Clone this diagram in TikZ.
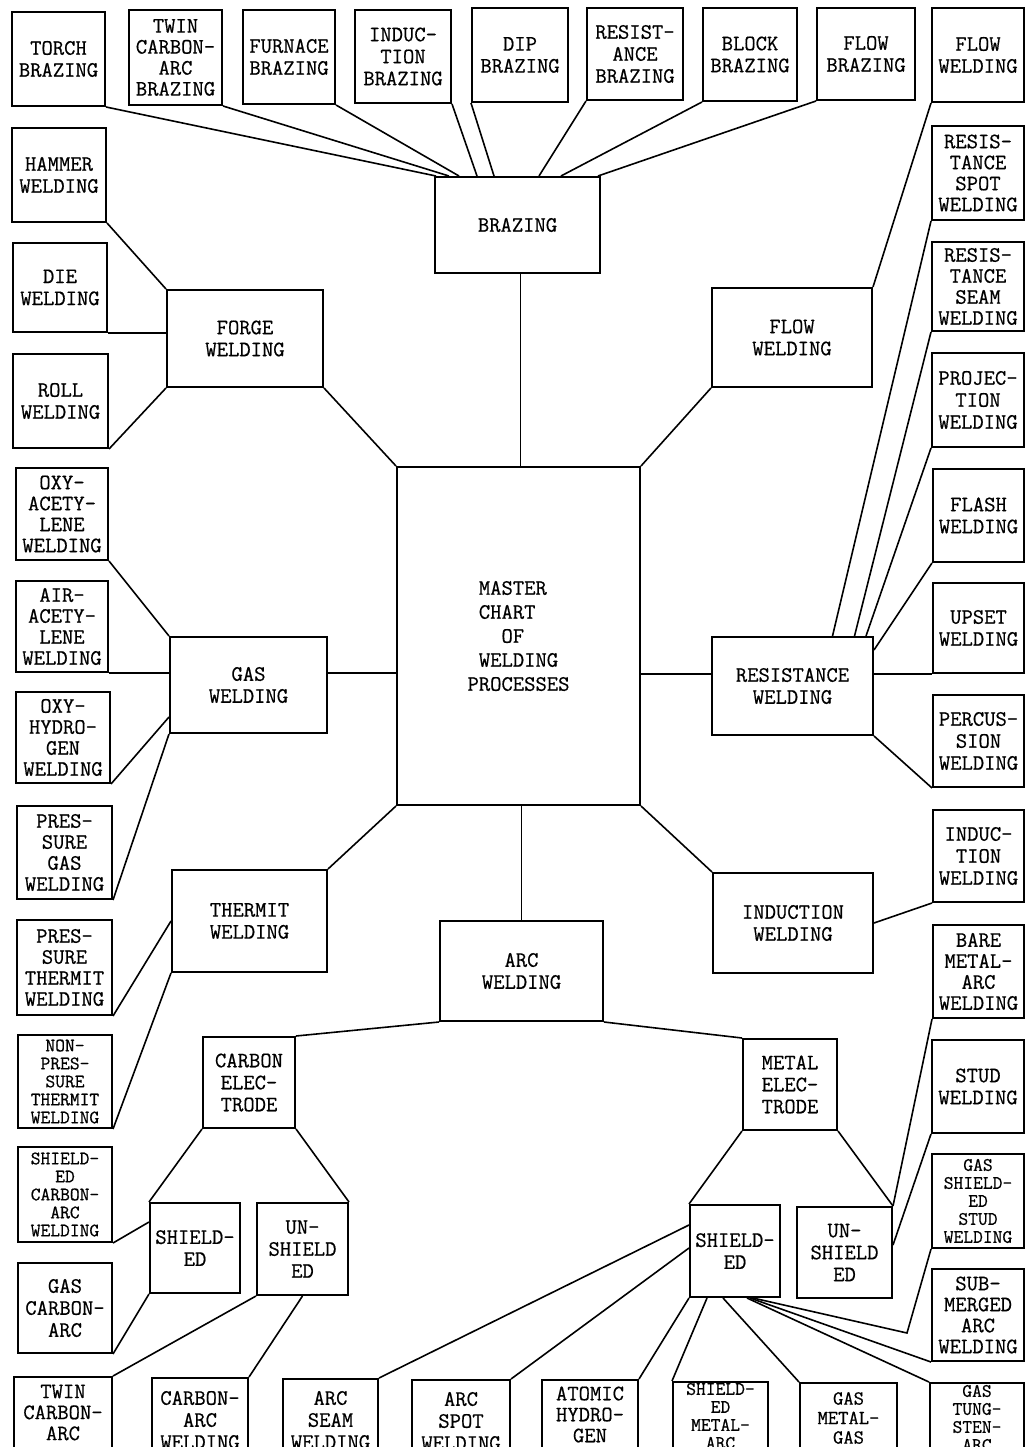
\documentclass[tikz,border=0pt]{standalone}
\usepackage{fontspec}
\setmonofont{Latin Modern Mono}[FakeBold=0.6]
\tikzset{
  box/.style={draw, line width=2pt, inner sep=0pt, align=center,
    font=\ttfamily\fontsize{22}{22}\selectfont},
  lfour/.style={font=\ttfamily\fontsize{22}{21}\selectfont},
  lfive/.style={font=\ttfamily\fontsize{19}{18}\selectfont},
  link/.style={line width=1.6pt},
}
\begin{document}
\begin{tikzpicture}[x=1pt,y=-1pt]
\useasboundingbox (0,0) rectangle (1026,1447);
\fill[white] (0,0) rectangle (1026,1447);
\clip (0,0) rectangle (1026,1447);

% ---------- top row ----------
\node[box, minimum width=93, minimum height=94] (torch) at (58.5,59) {TORCH\\BRAZING};
\node[box, lfour, minimum width=93, minimum height=95] (twinb) at (175.5,57.5) {TWIN\\CARBON-\\ARC\\BRAZING};
\node[box, minimum width=92, minimum height=94] (furn) at (289,57) {FURNACE\\BRAZING};
\node[box, minimum width=96, minimum height=93] (inducb) at (403,56.5) {INDUC-\\TION\\BRAZING};
\node[box, minimum width=96, minimum height=94] (dip) at (520,55) {DIP\\BRAZING};
\node[box, minimum width=96, minimum height=92] (resb) at (635,54) {RESIST-\\ANCE\\BRAZING};
\node[box, minimum width=94, minimum height=93] (block) at (750,54.5) {BLOCK\\BRAZING};
\node[box, minimum width=98, minimum height=92] (flowb) at (866,54) {FLOW\\BRAZING};
\node[box, minimum width=92, minimum height=94] (floww) at (978,55) {FLOW\\WELDING};
\node[box, minimum width=165, minimum height=96] (brazing) at (517.5,225) {BRAZING};

% ---------- left column ----------
\node[box, minimum width=94, minimum height=94] (hammer) at (59,175) {HAMMER\\WELDING};
\node[box, minimum width=94, minimum height=89] (die) at (60,287.5) {DIE\\WELDING};
\node[box, minimum width=95, minimum height=94] (roll) at (60.5,401) {ROLL\\WELDING};
\node[box, minimum width=156, minimum height=97] (forge) at (245,338.5) {FORGE\\WELDING};
\node[box, lfour, minimum width=92, minimum height=92] (oxyac) at (62,514) {OXY-\\ACETY-\\LENE\\WELDING};
\node[box, lfour, minimum width=92, minimum height=91] (airac) at (62,626.5) {AIR-\\ACETY-\\LENE\\WELDING};
\node[box, minimum width=157, minimum height=96] (gas) at (248.5,685) {GAS\\WELDING};
\node[box, lfour, minimum width=94, minimum height=91] (oxyhy) at (63,737.5) {OXY-\\HYDRO-\\GEN\\WELDING};
\node[box, lfour, minimum width=95, minimum height=93] (presgas) at (64.5,852.5) {PRES-\\SURE\\GAS\\WELDING};
\node[box, minimum width=155, minimum height=102] (thermit) at (249.5,921) {THERMIT\\WELDING};
\node[box, lfour, minimum width=95, minimum height=95] (presth) at (64.5,967.5) {PRES-\\SURE\\THERMIT\\WELDING};
\node[box, lfive, minimum width=94, minimum height=93] (nonpres) at (65,1081.5) {NON-\\PRES-\\SURE\\THERMIT\\WELDING};
\node[box, lfive, minimum width=94, minimum height=95] (shcarb) at (65,1194.5) {SHIELD-\\ED\\CARBON-\\ARC\\WELDING};
\node[box, minimum width=94, minimum height=90] (gascarb) at (65,1308) {GAS\\CARBON-\\ARC};
\node[box, lfour, minimum width=98, minimum height=92] (twinw) at (63,1423) {TWIN\\CARBON-\\ARC\\WELDING};

% ---------- centre ----------
\node[box, align=left, minimum width=243, minimum height=338,
  font=\ttfamily\fontsize{22}{24}\selectfont] (master) at (518.5,636)
  {\phantom{P}MASTER\\\phantom{P}CHART\\\phantom{PPP}OF\\\phantom{P}WELDING\\PROCESSES};
\node[box, minimum width=163, minimum height=100] (arc) at (521.5,971) {ARC\\WELDING};

\node[box, minimum width=92, minimum height=91] (carbel) at (249,1082.5) {CARBON\\ELEC-\\TRODE};
\node[box, minimum width=90, minimum height=90] (cshield) at (195,1248) {SHIELD-\\ED};
\node[box, minimum width=91, minimum height=92] (cunsh) at (302.5,1249) {UN-\\SHIELD\\ED};
\node[box, minimum width=94, minimum height=91] (metel) at (790,1084.5) {METAL\\ELEC-\\TRODE};
\node[box, minimum width=90, minimum height=92] (mshield) at (735,1251) {SHIELD-\\ED};
\node[box, minimum width=95, minimum height=91] (munsh) at (844.5,1252.5) {UN-\\SHIELD\\ED};

% ---------- right inner ----------
\node[box, minimum width=160, minimum height=99] (flowmid) at (792,337.5) {FLOW\\WELDING};
\node[box, minimum width=161, minimum height=98] (resw) at (792.5,686) {RESISTANCE\\WELDING};
\node[box, minimum width=160, minimum height=100] (inducmid) at (793,923) {INDUCTION\\WELDING};

% ---------- right column ----------
\node[box, lfour, minimum width=92, minimum height=94] (rspot) at (978,173) {RESIS-\\TANCE\\SPOT\\WELDING};
\node[box, lfour, minimum width=92, minimum height=89] (rseam) at (978,286.5) {RESIS-\\TANCE\\SEAM\\WELDING};
\node[box, minimum width=92, minimum height=94] (proj) at (978,400) {PROJEC-\\TION\\WELDING};
\node[box, minimum width=91, minimum height=93] (flash) at (978.5,515.5) {FLASH\\WELDING};
\node[box, minimum width=91, minimum height=90] (upset) at (978.5,628) {UPSET\\WELDING};
\node[box, minimum width=91, minimum height=92] (percus) at (978.5,741) {PERCUS-\\SION\\WELDING};
\node[box, minimum width=91, minimum height=92] (inducw) at (978.5,856) {INDUC-\\TION\\WELDING};
\node[box, lfour, minimum width=91, minimum height=93] (bare) at (978.5,971.5) {BARE\\METAL-\\ARC\\WELDING};
\node[box, minimum width=92, minimum height=93] (stud) at (978,1086.5) {STUD\\WELDING};
\node[box, lfive, minimum width=92, minimum height=94] (gss) at (978,1201) {GAS\\SHIELD-\\ED\\STUD\\WELDING};
\node[box, lfour, minimum width=92, minimum height=92] (subm) at (978,1315) {SUB-\\MERGED\\ARC\\WELDING};
\node[box, lfive, minimum width=94, minimum height=88] (gta) at (977,1427) {GAS\\TUNG-\\STEN-\\ARC\\WELDING};

% ---------- bottom row ----------
\node[box, minimum width=96, minimum height=84] (carcw) at (200,1420) {CARBON-\\ARC\\WELDING};
\node[box, minimum width=95, minimum height=82] (arcseam) at (330.5,1420) {ARC\\SEAM\\WELDING};
\node[box, minimum width=98, minimum height=82] (arcspot) at (461,1421) {ARC\\SPOT\\WELDING};
\node[box, lfour, minimum width=96, minimum height=90] (atomic) at (590,1425) {ATOMIC\\HYDRO-\\GEN\\WELDING};
\node[box, lfive, minimum width=95, minimum height=86] (smaw) at (720.5,1425) {SHIELD-\\ED\\METAL-\\ARC\\WELDING};
\node[box, font=\ttfamily\fontsize{20}{19.5}\selectfont, minimum width=97, minimum height=70] (gmg) at (848.5,1418) {GAS\\METAL-\\GAS};

\coordinate (gssbend) at (907,1333);

% ---------- connectors ----------
% brazing
\draw[link] (torch.south east) -- ([xshift=2pt]brazing.north west);
\draw[link] (twinb.south east) -- ([xshift=15pt]brazing.north west);
\draw[link] (furn.south east) -- ([xshift=25pt]brazing.north west);
\draw[link] (inducb.south east) -- ([xshift=43pt]brazing.north west);
\draw[link] (dip.south west) -- ([xshift=60pt]brazing.north west);
\draw[link] (resb.south west) -- ([xshift=-62pt]brazing.north east);
\draw[link] (block.south west) -- ([xshift=-40pt]brazing.north east);
\draw[link] (flowb.south west) -- ([xshift=-3pt]brazing.north east);
\draw[link] ([xshift=3pt]brazing.south) -- ([xshift=3pt]brazing.south |- master.north);

% forge
\draw[link] (hammer.south east) -- (forge.north west);
\draw[link] (die.south east) -- (forge.west |- die.south);
\draw[link] (roll.south east) -- (forge.south west);
\draw[link] (forge.south east) -- (master.north west);

% gas
\draw[link] (oxyac.south east) -- (gas.north west);
\draw[link] (airac.south east) -- (gas.west |- airac.south);
\draw[link] (gas.east |- airac.south) -- (master.west |- airac.south);
\draw[link] (oxyhy.south east) -- ([yshift=-32pt]gas.west);
\draw[link] (presgas.south east) -- (gas.south west);

% thermit
\draw[link] (thermit.north east) -- (master.south west);
\draw[link] (presth.south east) -- (thermit.west);
\draw[link] (nonpres.south east) -- (thermit.south west);

% flow welding
\draw[link] (floww.south west) -- (flowmid.north east);
\draw[link] (flowmid.south west) -- (master.north east);

% resistance
\draw[link] (rspot.south west) -- ([xshift=40pt]resw.north);
\draw[link] (rseam.south west) -- ([xshift=62pt]resw.north);
\draw[link] (proj.south west) -- ([xshift=-8pt]resw.north east);
\draw[link] (flash.south west) -- ([yshift=-14pt]resw.north east);
\draw[link] (master.east |- upset.south) -- (resw.west |- upset.south);
\draw[link] (resw.east |- upset.south) -- (upset.south west);
\draw[link] (resw.south east) -- (percus.south west);

% induction
\draw[link] (master.south east) -- (inducmid.north west);
\draw[link] (inducmid.east) -- (inducw.south west);

% arc
\draw[link] (arc.north |- master.south) -- (arc.north);
\draw[link] (arc.south west) -- (carbel.north east);
\draw[link] (arc.south east) -- (metel.north west);

% carbon electrode
\draw[link] (carbel.south west) -- (cshield.north west);
\draw[link] (carbel.south east) -- (cunsh.north east);
\draw[link] (shcarb.south east) -- ([yshift=26pt]cshield.west);
\draw[link] (gascarb.south east) -- (cshield.south west);
\draw[link] (twinw.north east) -- (cunsh.south west);
\draw[link] (carcw.north east) -- (cunsh.south);

% metal electrode
\draw[link] (metel.south west) -- (mshield.north west);
\draw[link] (metel.south east) -- (munsh.north east);
\draw[link] (bare.south west) -- (munsh.north east);
\draw[link] (stud.south west) -- ([yshift=7.5pt]munsh.east);
\draw[link] ([yshift=26pt]mshield.west) -- (arcseam.north east);
\draw[link] ([yshift=3pt]mshield.west) -- (arcspot.north east);
\draw[link] (mshield.south west) -- (atomic.north east);
\draw[link] ([xshift=-28pt]mshield.south) -- (smaw.north west);
\draw[link] ([xshift=-12pt]mshield.south) -- (gmg.north west);
\draw[link] ([xshift=12pt]mshield.south) -- (gta.north west);
\draw[link] ([xshift=15pt]mshield.south) -- (subm.south west);
\draw[link] ([xshift=18pt]mshield.south) -- (gssbend) -- (gss.south west);
\end{tikzpicture}
\end{document}
